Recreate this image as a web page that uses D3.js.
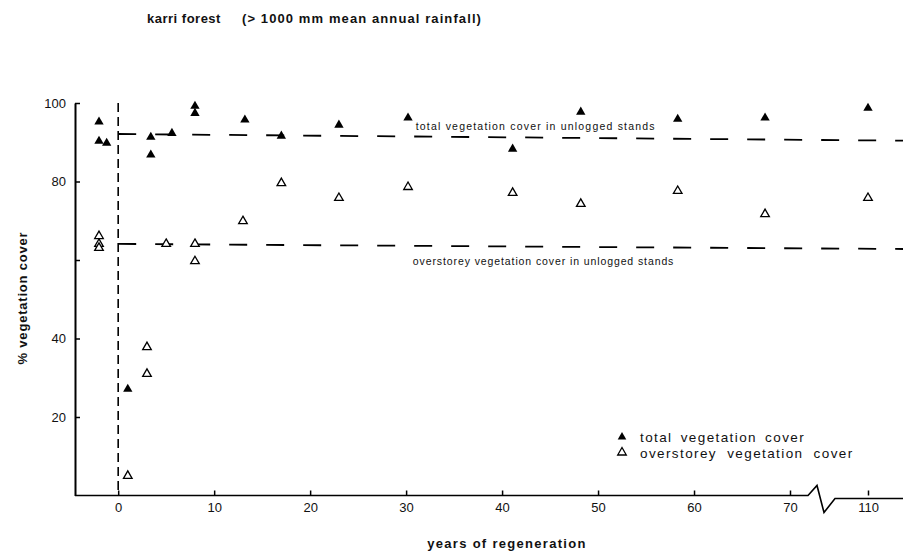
<!DOCTYPE html>
<html>
<head>
<meta charset="utf-8">
<script src="https://cdn.jsdelivr.net/npm/d3@7"></script>
<style>
body { margin: 0; background: #fff; }
svg text { font-family: "Liberation Sans", Arial, Helvetica, sans-serif; fill: #111; }
</style>
</head>
<body>
<script>
// total vegetation cover (filled triangles), years since logging; negative = unlogged stands
var totalYears = [-2, -2, -1.2, 1.0, 3.4, 3.4, 5.6, 8, 8, 13.2, 17, 23, 30.2, 41.1, 48.2, 58.3, 67.4, 110];
var totalCover = [95.2, 90.3, 89.8, 27.1, 91.3, 86.8, 92.3, 99.2, 97.4, 95.7, 91.6, 94.4, 96.2, 88.3, 97.7, 95.9, 96.2, 98.7];

// overstorey vegetation cover (open triangles)
var overYears = [-2, -2, -2, 1.0, 3, 3, 5, 8, 8, 13, 17, 23, 30.2, 41.1, 48.2, 58.3, 67.4, 110];
var overCover = [66.1, 64.1, 63.1, 5.0, 37.8, 31.0, 64.1, 64.1, 59.7, 69.9, 79.6, 75.8, 78.6, 77.1, 74.3, 77.6, 71.7, 75.8];

var xTicks = [0, 10, 20, 30, 40, 50, 60, 70, 110];
var yTicks = [20, 40, 60, 80, 100];
var yTickLabels = ["20", "40", "", "80", "100"];

// unlogged stand levels at the left and right end of each dashed line (the scan is a little tilted)
var unloggedTotal = [92.1, 90.4];
var unloggedOver = [64.1, 62.8];

var legendLabels = ["total vegetation cover", "overstorey vegetation cover"];

var width = 905, height = 556;

var svg = d3.select("body").append("svg")
    .attr("width", width)
    .attr("height", height);

// x axis has a break between 70 and 110
var x = d3.scaleLinear()
    .domain([-4.5, 70, 110, 113.6])
    .range([75, 790, 868, 903]);
var y = d3.scaleLinear()
    .domain([0, 100])
    .range([495.5, 103]);

// title
svg.append("text")
    .attr("x", 147).attr("y", 23)
    .style("font-size", "13px").style("font-weight", "bold")
    .style("letter-spacing", "0.5px")
    .text("karri forest");
svg.append("text")
    .attr("x", 242).attr("y", 23)
    .style("font-size", "13px").style("font-weight", "bold")
    .style("letter-spacing", "1.1px")
    .text("(> 1000 mm mean annual rainfall)");

// y axis
var yAxis = d3.axisLeft(y)
    .tickValues(yTicks)
    .tickSizeInner(-5)
    .tickSizeOuter(0)
    .tickPadding(9)
    .tickFormat(function(d, i) { return yTickLabels[i]; });
var gy = svg.append("g")
    .attr("transform", "translate(" + x(-4.5) + ",0)")
    .call(yAxis);
gy.select(".domain").attr("stroke", "#000").attr("stroke-width", 2);
gy.selectAll(".tick line").attr("stroke", "#000").attr("stroke-width", 1.5);
gy.selectAll(".tick text").style("font-size", "13px").attr("fill", "#111");

// x axis (domain drawn by hand for the break)
var xAxis = d3.axisBottom(x)
    .tickValues(xTicks)
    .tickSizeInner(-5)
    .tickSizeOuter(0)
    .tickPadding(7)
    .tickFormat(d3.format("d"));
var gx = svg.append("g")
    .attr("transform", "translate(0," + y(0) + ")")
    .call(xAxis);
gx.select(".domain").remove();
gx.selectAll(".tick line").attr("stroke", "#000").attr("stroke-width", 1.5);
gx.selectAll(".tick text").style("font-size", "13px").attr("fill", "#111");

var b0 = x(70) + 18;
var axisPath = d3.path();
axisPath.moveTo(x(-4.5), y(0));
axisPath.lineTo(b0, y(0));
axisPath.lineTo(b0 + 9, y(0) - 10);
axisPath.lineTo(b0 + 16, y(0) + 17);
axisPath.lineTo(b0 + 27, y(0) + 3);
axisPath.lineTo(x(113.6), y(0) + 3);
svg.append("path")
    .attr("d", axisPath.toString())
    .attr("fill", "none")
    .attr("stroke", "#000")
    .attr("stroke-width", 1.6);

// vertical dashed line at time of logging
svg.append("line")
    .attr("x1", x(0)).attr("x2", x(0))
    .attr("y1", y(100)).attr("y2", y(0))
    .attr("stroke", "#000")
    .attr("stroke-width", 1.6)
    .attr("stroke-dasharray", "9,5");

// unlogged stand reference lines
[unloggedTotal, unloggedOver].forEach(function(v) {
    svg.append("line")
        .attr("x1", x(0)).attr("x2", x(113.6))
        .attr("y1", y(v[0])).attr("y2", y(v[1]))
        .attr("stroke", "#000")
        .attr("stroke-width", 1.8)
        .attr("stroke-dasharray", "18,19");
});

svg.append("text")
    .attr("x", x(31)).attr("y", y(93.0))
    .style("font-size", "10.5px").style("letter-spacing", "1.2px")
    .text("total vegetation cover in unlogged stands");
svg.append("text")
    .attr("x", x(30.7)).attr("y", y(58.7))
    .style("font-size", "10.5px").style("letter-spacing", "0.9px")
    .text("overstorey vegetation cover in unlogged stands");

// points
var tri = d3.symbol().type(d3.symbolTriangle);

svg.append("g").selectAll("path")
    .data(totalYears)
    .enter().append("path")
    .attr("d", tri.size(38)())
    .attr("transform", function(d, i) { return "translate(" + x(d) + "," + y(totalCover[i]) + ")"; })
    .attr("fill", "#000");

svg.append("g").selectAll("path")
    .data(overYears)
    .enter().append("path")
    .attr("d", tri.size(32)())
    .attr("transform", function(d, i) { return "translate(" + x(d) + "," + y(overCover[i]) + ")"; })
    .attr("fill", "#fff")
    .attr("stroke", "#000")
    .attr("stroke-width", 1.3);

// legend
var legend = svg.append("g").attr("transform", "translate(622,437)");
legend.selectAll("path")
    .data(legendLabels)
    .enter().append("path")
    .attr("d", tri.size(32)())
    .attr("transform", function(d, i) { return "translate(0," + (i * 15.5) + ")"; })
    .attr("fill", function(d, i) { return i === 0 ? "#000" : "#fff"; })
    .attr("stroke", "#000")
    .attr("stroke-width", function(d, i) { return i === 0 ? 0 : 1.3; });
legend.selectAll("text")
    .data(legendLabels)
    .enter().append("text")
    .attr("x", 18)
    .attr("y", function(d, i) { return i * 15.5 + 5; })
    .style("font-size", "13.5px")
    .style("letter-spacing", "1.4px")
    .style("word-spacing", function(d, i) { return i === 0 ? "3px" : "5px"; })
    .text(function(d) { return d; });

// axis titles
svg.append("text")
    .attr("x", 507).attr("y", 548)
    .attr("text-anchor", "middle")
    .style("font-size", "13px").style("font-weight", "bold")
    .style("letter-spacing", "1.3px")
    .text("years of regeneration");
svg.append("text")
    .attr("transform", "translate(27,298) rotate(-90)")
    .attr("text-anchor", "middle")
    .style("font-size", "13px").style("font-weight", "bold")
    .style("letter-spacing", "0.8px")
    .text("% vegetation cover");
</script>
</body>
</html>
